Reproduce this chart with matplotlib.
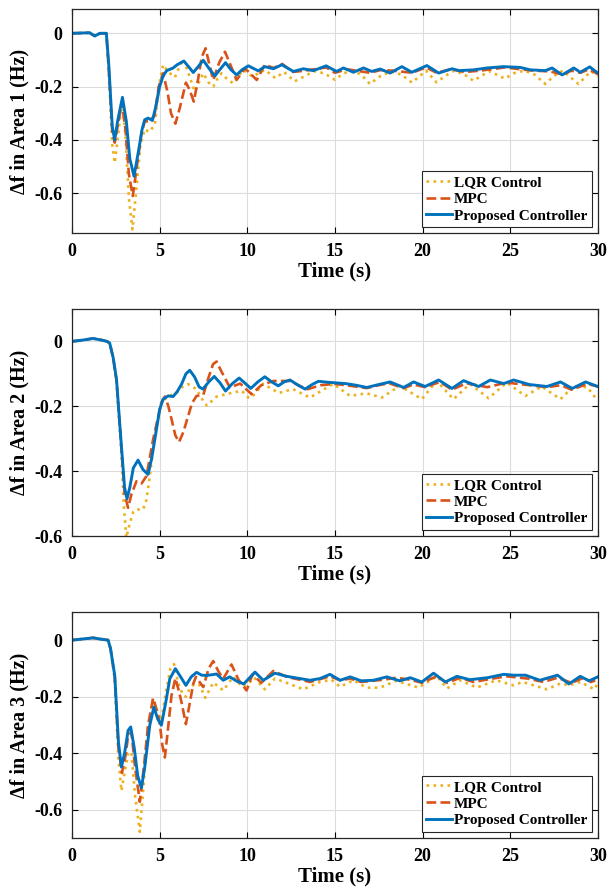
import matplotlib
matplotlib.use('Agg')
import matplotlib.pyplot as plt

plt.rcParams['font.family'] = ['Liberation Serif', 'DejaVu Serif']
plt.rcParams['font.weight'] = 'bold'
plt.rcParams['axes.unicode_minus'] = False

# ---- Area 1 ----
t1_lqr = [0, 1.0, 1.3, 1.6, 1.96, 2.1, 2.3, 2.44, 2.6, 2.85, 3.05, 3.25, 3.45, 3.65, 3.9, 4.15, 4.4, 4.73,
          4.95, 5.2, 5.5, 5.87, 6.1, 6.35, 6.7, 7.0, 7.2, 7.49, 7.8, 8.06, 8.3, 8.53, 8.9, 9.2, 9.5, 9.77,
          10.3, 11.0, 11.6, 12.1, 12.7, 13.3, 13.8, 14.4, 15.0, 15.5, 16.0, 16.5, 17.0, 17.6, 18.2, 18.8,
          19.4, 20.2, 20.8, 21.3, 21.8, 22.4, 22.9, 23.8, 24.7, 25.2, 25.8, 26.4, 27.0, 27.5, 28.0, 28.9,
          29.6, 30]
f1_lqr = [0, 0.002, -0.01, 0, 0, -0.15, -0.42, -0.486, -0.40, -0.25, -0.38, -0.62, -0.735, -0.60, -0.42,
          -0.36, -0.37, -0.343, -0.20, -0.118, -0.145, -0.165, -0.13, -0.097, -0.16, -0.218, -0.19, -0.15,
          -0.185, -0.20, -0.17, -0.15, -0.175, -0.187, -0.16, -0.137, -0.162, -0.137, -0.168, -0.145,
          -0.18, -0.16, -0.142, -0.15, -0.174, -0.15, -0.14, -0.155, -0.19, -0.16, -0.143, -0.155, -0.185,
          -0.14, -0.184, -0.16, -0.14, -0.155, -0.178, -0.142, -0.17, -0.15, -0.14, -0.155, -0.19, -0.16,
          -0.14, -0.19, -0.142, -0.16]

t1_mpc = [0, 1.0, 1.3, 1.6, 1.96, 2.1, 2.3, 2.44, 2.6, 2.85, 3.05, 3.25, 3.47, 3.7, 3.95, 4.15, 4.4, 4.7,
          4.95, 5.2, 5.45, 5.65, 5.9, 6.15, 6.5, 6.7, 6.95, 7.2, 7.4, 7.62, 7.85, 8.06, 8.4, 8.73, 9.05,
          9.39, 9.87, 10.54, 11.0, 11.5, 12.0, 12.6, 13.3, 14.5, 15.0, 15.7, 16.2, 17.0, 17.6, 18.3, 19.4,
          20.2, 20.8, 21.6, 22.4, 23.3, 24.7, 25.6, 26.3, 27.3, 28.0, 28.5, 29.0, 29.5, 30]
f1_mpc = [0, 0.002, -0.01, 0, 0, -0.13, -0.37, -0.41, -0.35, -0.26, -0.36, -0.53, -0.61, -0.50, -0.38,
          -0.33, -0.33, -0.31, -0.20, -0.15, -0.22, -0.30, -0.339, -0.28, -0.185, -0.21, -0.256, -0.17,
          -0.09, -0.056, -0.12, -0.175, -0.11, -0.069, -0.12, -0.175, -0.131, -0.175, -0.118, -0.13,
          -0.115, -0.145, -0.14, -0.128, -0.148, -0.135, -0.14, -0.148, -0.138, -0.14, -0.148, -0.128,
          -0.148, -0.135, -0.145, -0.14, -0.128, -0.135, -0.14, -0.143, -0.155, -0.14, -0.148, -0.135,
          -0.153]

t1_prop = [0, 1.0, 1.3, 1.6, 1.96, 2.1, 2.3, 2.44, 2.6, 2.88, 3.1, 3.3, 3.54, 3.8, 4.0, 4.15, 4.35, 4.59,
           4.8, 5.0, 5.2, 5.4, 5.77, 6.0, 6.38, 6.65, 6.92, 7.2, 7.49, 7.8, 8.15, 8.45, 8.76, 9.05, 9.39,
           9.7, 10.06, 10.63, 11.0, 11.49, 11.97, 12.63, 13.2, 13.77, 14.5, 15.1, 15.49, 16.06, 16.63,
           17.1, 17.58, 18.15, 18.82, 19.39, 20.25, 20.92, 21.68, 22.1, 22.92, 23.68, 24.63, 25.58, 26.15,
           27.01, 27.39, 27.97, 28.63, 29.0, 29.54, 30]
f1_prop = [0, 0.002, -0.01, 0, 0, -0.12, -0.35, -0.40, -0.33, -0.24, -0.33, -0.47, -0.536, -0.44, -0.36,
           -0.324, -0.318, -0.327, -0.27, -0.20, -0.16, -0.14, -0.13, -0.118, -0.104, -0.125, -0.147,
           -0.125, -0.101, -0.13, -0.16, -0.135, -0.11, -0.135, -0.156, -0.137, -0.122, -0.141, -0.125,
           -0.133, -0.118, -0.143, -0.133, -0.14, -0.122, -0.143, -0.13, -0.146, -0.13, -0.143, -0.134,
           -0.149, -0.125, -0.146, -0.121, -0.149, -0.133, -0.14, -0.137, -0.13, -0.125, -0.128, -0.137,
           -0.14, -0.13, -0.156, -0.13, -0.146, -0.126, -0.149]

# ---- Area 2 ----
t2_lqr = [0, 0.6, 1.2, 1.7, 2.0, 2.15, 2.35, 2.54, 2.82, 2.95, 3.1, 3.3, 3.5, 3.68, 4.06, 4.25, 4.44, 4.73,
          5.1, 5.5, 5.97, 6.3, 6.63, 7.1, 7.49, 7.7, 7.95, 8.25, 9.0, 9.68, 10.06, 10.25, 10.91, 11.8,
          12.6, 13.58, 14.9, 15.87, 16.8, 17.68, 18.7, 19.96, 20.8, 21.77, 22.7, 23.77, 24.8, 25.87, 26.8,
          27.87, 28.6, 29.4, 30]
f2_lqr = [0, 0.004, 0.009, 0.004, 0, -0.005, -0.05, -0.12, -0.34, -0.50, -0.605, -0.56, -0.525, -0.518,
          -0.518, -0.488, -0.415, -0.292, -0.186, -0.17, -0.158, -0.14, -0.132, -0.147, -0.184, -0.198,
          -0.185, -0.17, -0.16, -0.152, -0.173, -0.173, -0.131, -0.159, -0.147, -0.173, -0.131, -0.168,
          -0.16, -0.173, -0.137, -0.178, -0.122, -0.178, -0.131, -0.175, -0.127, -0.168, -0.139, -0.178,
          -0.139, -0.141, -0.183]

t2_mpc = [0, 0.6, 1.2, 1.7, 2.0, 2.15, 2.35, 2.54, 2.82, 3.0, 3.2, 3.4, 3.68, 3.97, 4.25, 4.63, 5.1, 5.3,
          5.5, 5.68, 5.9, 6.11, 6.35, 6.63, 6.85, 7.11, 7.49, 7.8, 8.05, 8.25, 8.5, 9.01, 9.6, 10.25, 10.8,
          11.49, 12.44, 13.4, 14.2, 15.0, 15.9, 16.8, 17.5, 18.1, 18.9, 19.5, 20.15, 21.0, 21.68, 22.5,
          23.7, 24.8, 26.1, 27.1, 27.9, 28.5, 29.4, 30]
f2_mpc = [0, 0.004, 0.009, 0.004, 0, -0.005, -0.05, -0.12, -0.33, -0.47, -0.513, -0.47, -0.431, -0.438,
          -0.415, -0.302, -0.189, -0.17, -0.20, -0.24, -0.29, -0.31, -0.28, -0.23, -0.19, -0.168, -0.165,
          -0.11, -0.07, -0.062, -0.09, -0.142, -0.13, -0.163, -0.135, -0.122, -0.122, -0.148, -0.135,
          -0.131, -0.137, -0.144, -0.135, -0.129, -0.144, -0.133, -0.141, -0.125, -0.149, -0.129, -0.141,
          -0.127, -0.135, -0.141, -0.135, -0.149, -0.131, -0.139]

t2_prop = [0, 0.6, 1.2, 1.7, 2.0, 2.15, 2.35, 2.54, 2.82, 3.0, 3.14, 3.3, 3.5, 3.77, 4.05, 4.34, 4.55, 4.82,
           5.0, 5.2, 5.49, 5.77, 6.0, 6.25, 6.5, 6.72, 7.0, 7.25, 7.47, 7.8, 8.12, 8.45, 8.76, 9.15, 9.54,
           9.9, 10.2, 10.6, 11.0, 11.4, 11.77, 12.1, 12.44, 12.9, 13.3, 13.7, 14.06, 14.6, 15.1, 15.6, 16.2,
           16.82, 17.5, 18.15, 18.92, 19.49, 20.15, 20.92, 21.68, 22.34, 23.2, 23.87, 24.63, 25.2, 26.1,
           27.1, 27.87, 28.54, 29.3, 30]
f2_prop = [0, 0.004, 0.009, 0.004, 0, -0.005, -0.05, -0.117, -0.323, -0.45, -0.485, -0.45, -0.39, -0.366,
           -0.395, -0.41, -0.36, -0.271, -0.21, -0.178, -0.168, -0.17, -0.155, -0.132, -0.10, -0.089, -0.11,
           -0.14, -0.147, -0.125, -0.108, -0.128, -0.153, -0.13, -0.113, -0.13, -0.145, -0.125, -0.109,
           -0.125, -0.137, -0.125, -0.119, -0.135, -0.147, -0.133, -0.123, -0.126, -0.128, -0.13, -0.135,
           -0.142, -0.133, -0.125, -0.142, -0.125, -0.139, -0.119, -0.145, -0.121, -0.139, -0.119, -0.13,
           -0.119, -0.133, -0.139, -0.125, -0.145, -0.125, -0.139]

# ---- Area 3 ----
t3_lqr = [0, 0.6, 1.2, 1.7, 2.06, 2.2, 2.44, 2.65, 2.82, 3.0, 3.2, 3.39, 3.6, 3.87, 4.1, 4.34, 4.63, 4.85,
          5.1, 5.4, 5.62, 5.82, 6.05, 6.34, 6.5, 6.73, 7.0, 7.3, 7.6, 8.06, 8.63, 9.2, 9.68, 9.96, 10.4,
          11.0, 11.58, 12.25, 13.2, 14.15, 14.8, 15.3, 16.06, 16.8, 17.58, 18.5, 19.77, 20.82, 21.4, 22.15,
          23.1, 24.2, 25.2, 25.7, 27.1, 27.87, 28.35, 29.0, 29.8, 30]
f3_lqr = [0, 0.004, 0.008, 0.003, 0, -0.03, -0.14, -0.42, -0.533, -0.47, -0.40, -0.396, -0.55, -0.678,
          -0.50, -0.307, -0.207, -0.25, -0.284, -0.17, -0.10, -0.085, -0.15, -0.195, -0.20, -0.17, -0.155,
          -0.16, -0.204, -0.15, -0.178, -0.13, -0.164, -0.16, -0.133, -0.174, -0.136, -0.151, -0.174,
          -0.148, -0.14, -0.165, -0.142, -0.168, -0.168, -0.144, -0.168, -0.128, -0.171, -0.142, -0.168,
          -0.142, -0.16, -0.148, -0.174, -0.153, -0.16, -0.148, -0.174, -0.153]

t3_mpc = [0, 0.6, 1.2, 1.7, 2.06, 2.2, 2.44, 2.65, 2.85, 3.05, 3.2, 3.39, 3.6, 3.87, 4.1, 4.34, 4.63, 4.85,
          5.0, 5.15, 5.3, 5.45, 5.68, 5.9, 6.1, 6.25, 6.5, 6.7, 6.92, 7.07, 7.3, 7.49, 7.8, 8.06, 8.35,
          8.63, 9.1, 9.5, 9.96, 10.3, 10.8, 11.49, 12.25, 13.0, 13.58, 14.72, 15.3, 15.87, 16.5, 17.77,
          18.5, 19.3, 19.96, 20.8, 21.4, 22.15, 22.9, 24.0, 24.8, 26.0, 26.9, 27.7, 28.5, 29.2, 29.6, 30]
f3_mpc = [0, 0.004, 0.008, 0.003, 0, -0.03, -0.13, -0.38, -0.47, -0.41, -0.34, -0.325, -0.45, -0.572,
          -0.45, -0.301, -0.205, -0.25, -0.29, -0.37, -0.415, -0.33, -0.195, -0.135, -0.18, -0.22, -0.297,
          -0.23, -0.154, -0.13, -0.15, -0.166, -0.10, -0.074, -0.11, -0.137, -0.086, -0.14, -0.178, -0.121,
          -0.151, -0.109, -0.13, -0.14, -0.148, -0.128, -0.142, -0.136, -0.148, -0.14, -0.133, -0.14,
          -0.151, -0.128, -0.151, -0.133, -0.148, -0.136, -0.128, -0.136, -0.148, -0.133, -0.151, -0.133,
          -0.148, -0.14]

t3_prop = [0, 0.6, 1.2, 1.7, 2.06, 2.2, 2.44, 2.65, 2.82, 3.0, 3.2, 3.35, 3.55, 3.75, 3.96, 4.15, 4.44,
           4.67, 4.9, 5.1, 5.35, 5.58, 5.9, 6.2, 6.5, 6.8, 7.11, 7.4, 7.68, 8.25, 8.63, 9.0, 9.4, 9.8,
           10.44, 10.91, 11.58, 12.25, 13.01, 13.58, 14.15, 14.72, 15.3, 15.87, 16.5, 17.2, 17.96, 18.7,
           19.3, 19.96, 20.63, 21.3, 21.96, 22.7, 23.7, 24.63, 25.2, 25.87, 26.7, 27.7, 28.35, 29.0, 29.5, 30]
f3_prop = [0, 0.004, 0.008, 0.003, 0, -0.03, -0.125, -0.36, -0.449, -0.40, -0.32, -0.307, -0.38, -0.48,
           -0.523, -0.45, -0.301, -0.237, -0.28, -0.301, -0.22, -0.137, -0.101, -0.13, -0.16, -0.13, -0.114,
           -0.124, -0.125, -0.12, -0.142, -0.13, -0.145, -0.155, -0.113, -0.142, -0.117, -0.128, -0.136,
           -0.142, -0.136, -0.121, -0.142, -0.13, -0.144, -0.142, -0.13, -0.144, -0.133, -0.148, -0.117,
           -0.148, -0.128, -0.14, -0.133, -0.121, -0.124, -0.124, -0.142, -0.124, -0.155, -0.128, -0.144,
           -0.13]

panels = [
    ('Δf in Area 1 (Hz)', (-0.75, 0.09), t1_lqr, f1_lqr, t1_mpc, f1_mpc, t1_prop, f1_prop),
    ('Δf in Area 2 (Hz)', (-0.6, 0.1), t2_lqr, f2_lqr, t2_mpc, f2_mpc, t2_prop, f2_prop),
    ('Δf in Area 3 (Hz)', (-0.7, 0.1), t3_lqr, f3_lqr, t3_mpc, f3_mpc, t3_prop, f3_prop),
]
yticks = [0, -0.2, -0.4, -0.6]
xticks = [0, 5, 10, 15, 20, 25, 30]

fig = plt.figure(figsize=(6.1, 8.94), dpi=100)
boxes = [[0.118, 0.739, 0.862, 0.2506],
         [0.118, 0.4004, 0.862, 0.254],
         [0.118, 0.0626, 0.862, 0.253]]

for box, (ylab, ylim, tl, fl, tm, fm, tp, fp) in zip(boxes, panels):
    ax = fig.add_axes(box)
    ax.plot(tl, fl, linestyle=':', color='#EDB120', linewidth=1.9, label='LQR Control')
    ax.plot(tm, fm, linestyle='--', color='#D95319', linewidth=1.9, label='MPC')
    ax.plot(tp, fp, linestyle='-', color='#0072BD', linewidth=2.1, label='Proposed Controller')
    ax.set_xlim(0, 30)
    ax.set_ylim(*ylim)
    ax.set_xticks(xticks)
    ax.set_yticks(yticks)
    ax.set_yticklabels(['0', '-0.2', '-0.4', '-0.6'])
    ax.grid(True, color='#dcdcdc', linewidth=0.8)
    ax.set_axisbelow(True)
    ax.tick_params(direction='in', top=True, right=True, labelsize=13, length=4, width=0.8, pad=7)
    for lab in ax.get_xticklabels() + ax.get_yticklabels():
        lab.set_fontweight('bold')
    for s in ax.spines.values():
        s.set_color('#262626')
        s.set_linewidth(0.9)
    ax.set_xlabel('Time (s)', fontsize=15, fontweight='bold', labelpad=1)
    ax.set_ylabel(ylab, fontsize=14.5, fontweight='bold', labelpad=3)
    leg = ax.legend(loc='lower right', fontsize=11, handlelength=1.7, handletextpad=0.1,
                    borderpad=0.3, labelspacing=0.2, fancybox=False, framealpha=1,
                    edgecolor='#262626', borderaxespad=0.4)
    leg.get_frame().set_linewidth(0.8)

fig.savefig('out.png', dpi=100)
